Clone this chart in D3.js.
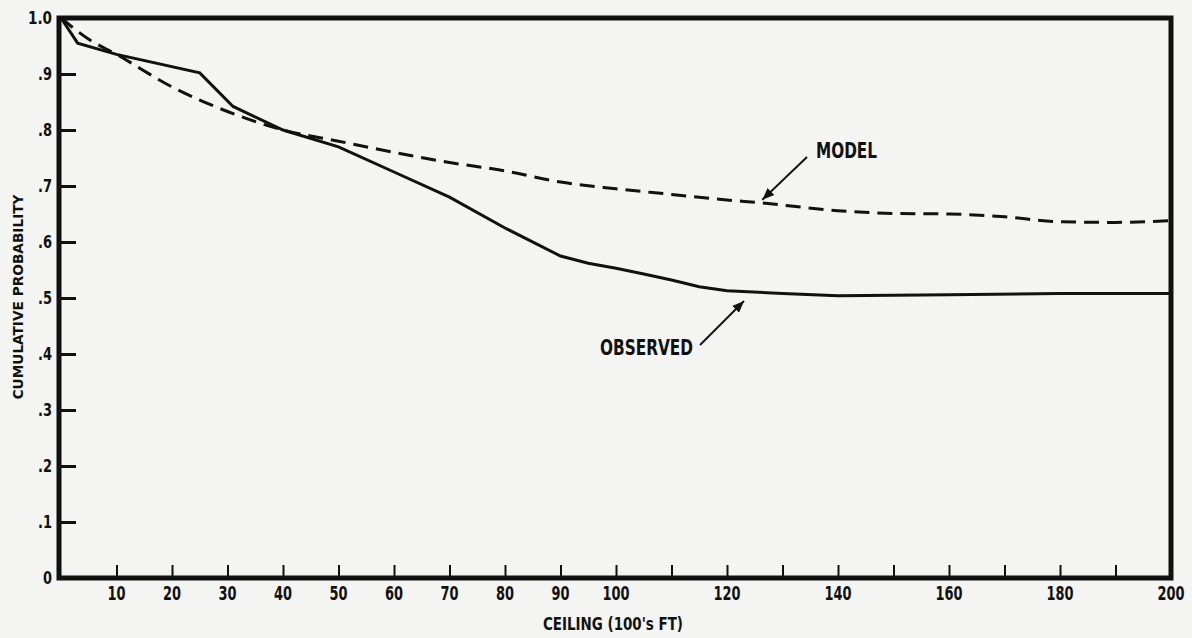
<!DOCTYPE html>
<html lang="en">
<head>
    <meta charset="UTF-8">
    <title>Cumulative Probability vs Ceiling</title>
    <script src="https://d3js.org/d3.v7.min.js"></script>
    <style>
        body { margin: 0; background: #f4f4f2; }
        text { font-family: "Liberation Sans Narrow", "DejaVu Sans Condensed", "Arial Narrow", sans-serif; font-weight: bold; fill: #111; }
    </style>
</head>
<body>
    <svg width="1192" height="638" id="chart"></svg>

    <script>
        // ceiling in 100's ft
        var observedX = [0, 3, 10, 25, 31, 40, 50, 60, 70, 80, 90, 95, 100, 105, 110, 115, 120, 130, 140, 160, 180, 200];
        var observedY = [1.0, 0.955, 0.935, 0.902, 0.842, 0.80, 0.77, 0.725, 0.68, 0.625, 0.575, 0.562, 0.553, 0.543, 0.532, 0.52, 0.513, 0.508, 0.504, 0.506, 0.508, 0.508];

        var modelX = [0, 5, 10, 20, 30, 40, 50, 60, 70, 80, 90, 100, 110, 120, 126, 140, 150, 160, 170, 180, 190, 200];
        var modelY = [1.0, 0.962, 0.935, 0.877, 0.833, 0.80, 0.78, 0.76, 0.742, 0.727, 0.707, 0.695, 0.685, 0.675, 0.67, 0.656, 0.651, 0.65, 0.645, 0.636, 0.635, 0.638];

        var xTicks = [10, 20, 30, 40, 50, 60, 70, 80, 90, 100, 110, 120, 130, 140, 150, 160, 170, 180, 190];
        var xLabels = [10, 20, 30, 40, 50, 60, 70, 80, 90, 100, 120, 140, 160, 180, 200];
        var yTicks = [0, 0.1, 0.2, 0.3, 0.4, 0.5, 0.6, 0.7, 0.8, 0.9, 1.0];

        var svg = d3.select("#chart");

        var x = d3.scaleLinear().domain([0, 200]).range([61, 1171]);
        var y = d3.scaleLinear().domain([0, 1]).range([578, 18]);

        // bottom ticks (pointing up)
        svg.append("g")
            .attr("transform", "translate(0," + y(0) + ")")
            .call(d3.axisBottom(x).tickValues(xTicks).tickSizeInner(-13).tickSizeOuter(0).tickFormat(""))
            .call(g => g.select(".domain").remove())
            .selectAll("line").attr("stroke", "#111").attr("stroke-width", 2);

        // bottom labels
        svg.append("g")
            .selectAll("text")
            .data(xLabels)
            .join("text")
            .attr("x", d => x(d))
            .attr("y", 600)
            .attr("text-anchor", "middle")
            .attr("font-size", 19)
            .attr("textLength", d => String(d).length * 9)
            .attr("lengthAdjust", "spacingAndGlyphs")
            .text(d => d);

        // left ticks (pointing right)
        svg.append("g")
            .attr("transform", "translate(" + x(0) + ",0)")
            .call(d3.axisLeft(y).tickValues(yTicks.slice(1, 10)).tickSizeInner(-15).tickSizeOuter(0).tickFormat(""))
            .call(g => g.select(".domain").remove())
            .selectAll("line").attr("stroke", "#111").attr("stroke-width", 3);

        svg.append("g")
            .selectAll("text")
            .data(yTicks)
            .join("text")
            .attr("x", 52)
            .attr("y", d => y(d) + 6)
            .attr("text-anchor", "end")
            .attr("font-size", 18)
            .attr("textLength", d => d == 1 ? 24 : d == 0 ? 9 : 14)
            .attr("lengthAdjust", "spacingAndGlyphs")
            .text(d => d == 1 ? "1.0" : d == 0 ? "0" : "." + Math.round(d * 10));

        // frame
        svg.append("rect")
            .attr("x", 59)
            .attr("y", y(1))
            .attr("width", 1171 - 59)
            .attr("height", y(0) - y(1))
            .attr("fill", "none")
            .attr("stroke", "#111")
            .attr("stroke-width", 5);

        var line = d3.line().x(d => x(d[0])).y(d => y(d[1]));

        svg.append("path")
            .datum(d3.zip(observedX, observedY))
            .attr("d", line.curve(d3.curveLinear))
            .attr("fill", "none")
            .attr("stroke", "#111")
            .attr("stroke-width", 3);

        svg.append("path")
            .datum(d3.zip(modelX, modelY))
            .attr("d", line.curve(d3.curveMonotoneX))
            .attr("fill", "none")
            .attr("stroke", "#111")
            .attr("stroke-width", 3)
            .attr("stroke-dasharray", "15,8");

        // arrowheads
        svg.append("defs").append("marker")
            .attr("id", "arrow")
            .attr("viewBox", "0 0 10 10")
            .attr("refX", 10)
            .attr("refY", 5)
            .attr("markerWidth", 6)
            .attr("markerHeight", 6)
            .attr("orient", "auto")
            .append("path")
            .attr("d", "M0,1 L10,5 L0,9 Z")
            .attr("fill", "#111");

        // annotations
        svg.append("line")
            .attr("x1", 807).attr("y1", 157)
            .attr("x2", x(126) + 2).attr("y2", y(0.67) - 3)
            .attr("stroke", "#111").attr("stroke-width", 2)
            .attr("marker-end", "url(#arrow)");

        svg.append("text")
            .attr("x", 816).attr("y", 158)
            .attr("font-size", 21)
            .attr("textLength", 61)
            .attr("lengthAdjust", "spacingAndGlyphs")
            .text("MODEL");

        svg.append("line")
            .attr("x1", 700).attr("y1", 345)
            .attr("x2", 744).attr("y2", 301)
            .attr("stroke", "#111").attr("stroke-width", 2)
            .attr("marker-end", "url(#arrow)");

        svg.append("text")
            .attr("x", 600).attr("y", 355)
            .attr("font-size", 22)
            .attr("textLength", 93)
            .attr("lengthAdjust", "spacingAndGlyphs")
            .text("OBSERVED");

        svg.append("text")
            .attr("x", 613).attr("y", 630)
            .attr("text-anchor", "middle")
            .attr("font-size", 18)
            .attr("textLength", 140)
            .attr("lengthAdjust", "spacingAndGlyphs")
            .text("CEILING (100's FT)");

        svg.append("text")
            .attr("transform", "translate(23,297) rotate(-90)")
            .attr("text-anchor", "middle")
            .attr("font-size", 14)
            .attr("textLength", 205)
            .attr("lengthAdjust", "spacingAndGlyphs")
            .text("CUMULATIVE PROBABILITY");
    </script>
</body>
</html>
